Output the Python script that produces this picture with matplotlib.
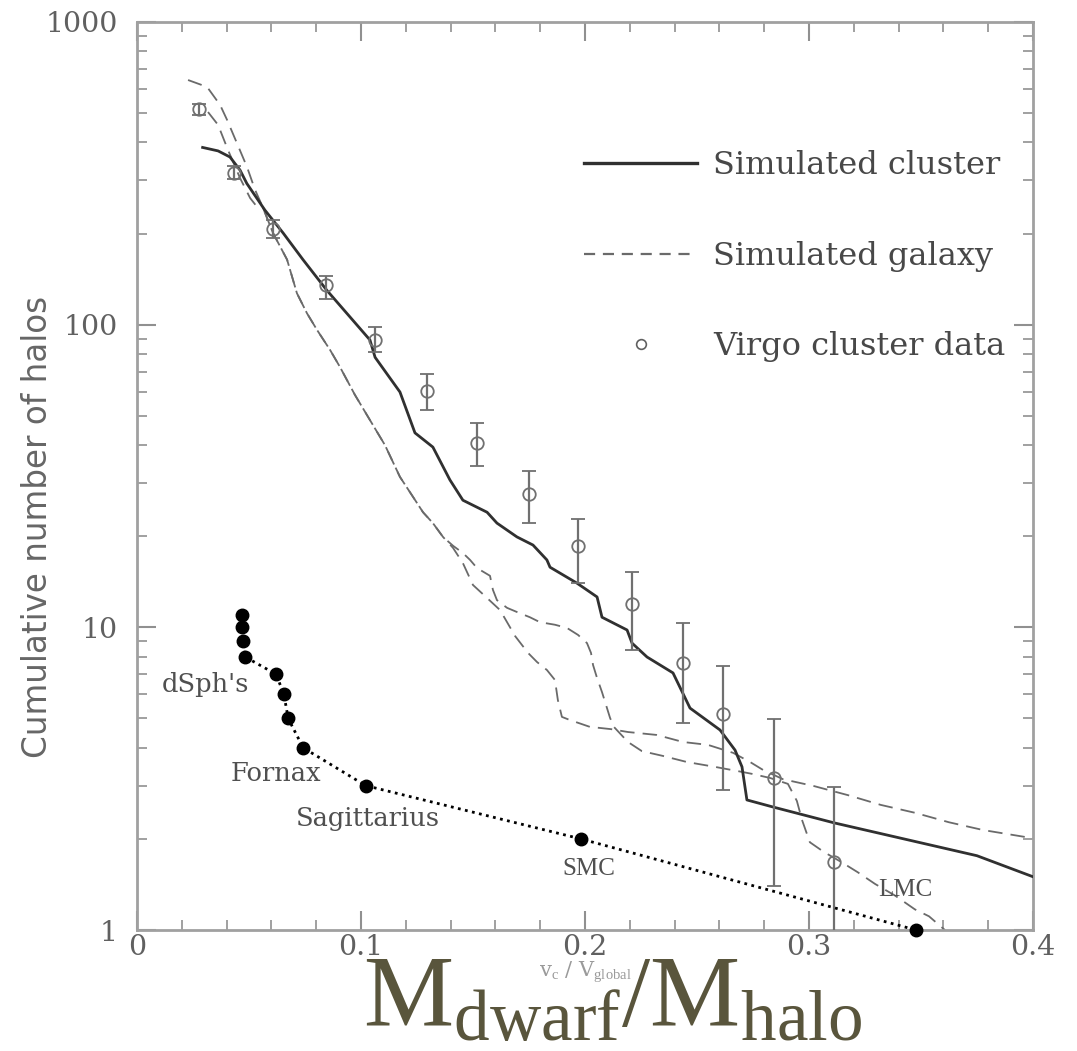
import matplotlib
matplotlib.use("Agg")
import matplotlib.pyplot as plt
from matplotlib.lines import Line2D
from matplotlib.ticker import FixedLocator, LogLocator, NullFormatter, FixedFormatter
import numpy as np

plt.rcParams['mathtext.fontset'] = 'custom'
plt.rcParams['mathtext.rm'] = 'Liberation Serif'

# ---- data ----
# Simulated cluster (solid)
x_cluster = [0.0293, 0.0362, 0.0415, 0.0460, 0.0490, 0.0571, 0.0652, 0.0741, 0.0847, 0.0951,
             0.1040, 0.1063, 0.1174, 0.1241, 0.1321, 0.1397, 0.1455, 0.1563, 0.1607, 0.1696,
             0.1768, 0.1830, 0.1844, 0.1964, 0.2054, 0.2076, 0.2188, 0.2210, 0.2277, 0.2393,
             0.2469, 0.2603, 0.2670, 0.2701, 0.2723, 0.2839, 0.3112, 0.3750, 0.4000]
y_cluster = [385, 375, 358, 324, 293, 239, 201, 164, 130, 106,
             89, 78, 59.9, 43.9, 39.4, 30.7, 26.3, 24.0, 22.1, 19.9,
             18.7, 16.7, 15.8, 14.0, 12.6, 10.8, 9.8, 8.87, 7.98, 7.07,
             5.41, 4.58, 3.93, 3.46, 2.69, 2.55, 2.26, 1.76, 1.50]

# Simulated galaxy A (dashed, ends upper right)
x_galA = [0.0228, 0.0313, 0.0371, 0.0402, 0.0446, 0.0491, 0.0527, 0.0563, 0.0607, 0.0670,
          0.0714, 0.0759, 0.0804, 0.0862, 0.0906, 0.0973, 0.1040, 0.1107, 0.1174, 0.1232,
          0.1277, 0.1321, 0.1366, 0.1411, 0.1455, 0.1500, 0.1563, 0.1621, 0.1688, 0.1746,
          0.1786, 0.1830, 0.1866, 0.1879, 0.1897, 0.1933, 0.2022, 0.2116, 0.2192, 0.2321,
          0.2438, 0.2549, 0.2661, 0.2737, 0.2795, 0.2884, 0.3022, 0.3174, 0.3321, 0.3473,
          0.3625, 0.3777, 0.4000]
y_galA = [643, 610, 532, 475, 398, 332, 279, 243, 201, 164,
          127, 109, 96, 82.5, 72.5, 58.6, 48.4, 40.0, 31.4, 27.0,
          24.0, 22.1, 19.9, 18.3, 16.3, 13.8, 12.5, 11.4, 9.36, 8.23,
          7.68, 7.23, 6.70, 5.75, 5.06, 4.94, 4.69, 4.61, 4.51, 4.41,
          4.18, 4.09, 3.85, 3.59, 3.38, 3.15, 2.99, 2.79, 2.59, 2.44,
          2.27, 2.14, 2.01]

# Simulated galaxy B (dashed, drops to 1)
x_galB = [0.0317, 0.0362, 0.0406, 0.0460, 0.0505, 0.0536, 0.0563, 0.0607, 0.0670, 0.0714,
          0.0759, 0.0804, 0.0862, 0.0906, 0.0973, 0.1040, 0.1107, 0.1174, 0.1232, 0.1277,
          0.1321, 0.1366, 0.1411, 0.1455, 0.1487, 0.1518, 0.1576, 0.1589, 0.1607, 0.1652,
          0.1701, 0.1754, 0.1799, 0.1866, 0.1920, 0.1969, 0.2009, 0.2027, 0.2036, 0.2054,
          0.2076, 0.2094, 0.2112, 0.2129, 0.2192, 0.2254, 0.2348, 0.2455, 0.2580, 0.2701,
          0.2746, 0.2826, 0.2906, 0.2946, 0.2969, 0.3004, 0.3067, 0.3143, 0.3219, 0.3295,
          0.3384, 0.3473, 0.3536, 0.3607]
y_galB = [504, 457, 378, 305, 262, 245, 243, 201, 164, 127,
          109, 96, 82.5, 72.5, 58.6, 48.4, 40.0, 31.4, 27.0, 24.0,
          22.1, 19.9, 18.6, 17.6, 16.7, 15.7, 14.8, 13.3, 12.3, 11.6,
          11.2, 10.8, 10.4, 10.2, 9.95, 9.44, 8.87, 8.23, 7.51, 6.80,
          6.11, 5.54, 5.02, 4.69, 4.18, 3.90, 3.76, 3.59, 3.46, 3.33,
          3.28, 3.18, 3.04, 2.67, 2.31, 1.95, 1.81, 1.68, 1.55, 1.42,
          1.30, 1.17, 1.11, 1.0]

# Virgo cluster data with error bars
x_virgo = [0.0275, 0.0433, 0.0609, 0.0842, 0.1063, 0.1293, 0.1519, 0.1751, 0.1971, 0.2208,
           0.2438, 0.2618, 0.2842, 0.3114]
y_virgo = [514, 318, 207, 135, 89.3, 60.5, 40.7, 27.6, 18.5, 11.9, 7.6, 5.19, 3.17, 1.68]
y_virgo_lo = [492, 302, 194, 122, 81.4, 52.2, 34.2, 22.2, 14.0, 8.4, 4.83, 2.90, 1.40, 0.9]
y_virgo_hi = [536, 335, 221, 144.5, 98.5, 68.7, 47.4, 32.9, 22.8, 15.2, 10.3, 7.45, 4.98, 2.97]

# Milky Way satellites
x_dsph = [0.0470, 0.0470, 0.0475, 0.0481, 0.0621, 0.0656, 0.0675, 0.0742, 0.1021, 0.1982, 0.3478]
y_dsph = [11, 10, 9, 8, 7, 6, 5, 4, 3, 2, 1]

sat_labels = ["dSph's", "Fornax", "Sagittarius", "SMC", "LMC"]
sat_label_x = [0.0304, 0.0622, 0.1031, 0.2018, 0.3429]
sat_label_y = [6.45, 3.30, 2.34, 1.59, 1.36]

x_ticks = [0, 0.1, 0.2, 0.3, 0.4]
x_tick_labels = ["0", "0.1", "0.2", "0.3", "0.4"]
y_ticks = [1, 10, 100, 1000]
y_tick_labels = ["1", "10", "100", "1000"]

# ---- figure ----
fig = plt.figure(figsize=(10.77, 10.51), dpi=100)
ax = fig.add_axes([0.1272, 0.1151, 0.8319, 0.8640])
ax.set_xscale('linear')
ax.set_yscale('log')
ax.set_xlim(0, 0.4)
ax.set_ylim(1, 1000)

tick_col = '#606060'
serif_family = ['DejaVu Serif']

ax.plot(x_galA, y_galA, color='#6a6a6a', lw=1.3, dashes=(8, 4.5), zorder=2)
ax.plot(x_galB, y_galB, color='#6a6a6a', lw=1.3, dashes=(8, 4.5), zorder=2)
ax.plot(x_cluster, y_cluster, color='#303030', lw=2.0, zorder=3, solid_joinstyle='round')

yv = np.array(y_virgo)
yerr = np.vstack([yv - np.array(y_virgo_lo), np.array(y_virgo_hi) - yv])
ax.errorbar(x_virgo, y_virgo, yerr=yerr, fmt='o', ms=9, mfc='none', mec='#707070', mew=1.3,
            ecolor='#707070', elinewidth=1.6, capsize=5, capthick=1.4, zorder=4)

ax.plot(x_dsph, y_dsph, color='black', lw=2.0, ls=(0, (1, 1.6)), marker='o', ms=9,
        mfc='black', mec='black', zorder=5, clip_on=False)

for i, lab in enumerate(sat_labels):
    fam = ['Liberation Serif'] if lab in ("SMC", "LMC") else serif_family
    size = 18 if lab in ("SMC", "LMC") else 18.5
    ax.text(sat_label_x[i], sat_label_y[i], lab, ha='center', va='center',
            fontsize=size, family=fam, color='#505050')

# legend
handles = [Line2D([], [], color='#303030', lw=2.4),
           Line2D([], [], color='#6a6a6a', lw=1.6, dashes=(5, 3.5)),
           Line2D([], [], ls='none', marker='o', ms=7, mfc='none', mec='#606060', mew=1.2)]
leg = ax.legend(handles, ["Simulated cluster", "Simulated galaxy", "Virgo cluster data"],
                loc='upper left', bbox_to_anchor=(0.499, 0.859), frameon=False,
                borderaxespad=0, borderpad=0, handlelength=3.55, handletextpad=0.5,
                labelspacing=1.87, prop={'family': 'DejaVu Serif', 'size': 23})
for t in leg.get_texts():
    t.set_color('#484848')

# spines and ticks
for sp in ax.spines.values():
    sp.set_color('#a0a0a0')
    sp.set_linewidth(2)

ax.xaxis.set_major_locator(FixedLocator(x_ticks))
ax.xaxis.set_major_formatter(FixedFormatter(x_tick_labels))
ax.xaxis.set_minor_locator(FixedLocator(np.arange(0, 0.401, 0.02)))
ax.yaxis.set_major_locator(FixedLocator(y_ticks))
ax.yaxis.set_major_formatter(FixedFormatter(y_tick_labels))
ax.yaxis.set_minor_locator(LogLocator(base=10, subs=np.arange(2, 10), numticks=20))
ax.yaxis.set_minor_formatter(NullFormatter())

ax.tick_params(which='both', direction='in', top=True, right=True, color='#909090')
ax.tick_params(which='major', length=14, width=1.5, labelsize=20.5, labelcolor=tick_col)
ax.tick_params(which='minor', length=7, width=1.2)
ax.tick_params(axis='x', which='major', pad=3)
ax.tick_params(axis='y', which='major', pad=14)
for lab in ax.get_xticklabels() + ax.get_yticklabels():
    lab.set_family('DejaVu Serif')

# y label
fig.text(38 / 1077, 1 - 527 / 1051, "Cumulative number of halos", rotation=90,
         ha='center', va='center', fontsize=23.5, color='#666666', family='DejaVu Sans')

# faint original x label
fig.text(585 / 1077, 1 - 972 / 1051, r"v$_\mathrm{c}$ / V$_\mathrm{global}$", ha='center',
         va='center', fontsize=15, color='#9a9a9a', family='DejaVu Serif')

# big overlay label
fig.text(613 / 1077, 1 - 999 / 1051, r"$\mathrm{M_{dwarf}/M_{halo}}$", ha='center',
         va='center', fontsize=73, color='#59553c')

fig.savefig("out.png", dpi=100)
